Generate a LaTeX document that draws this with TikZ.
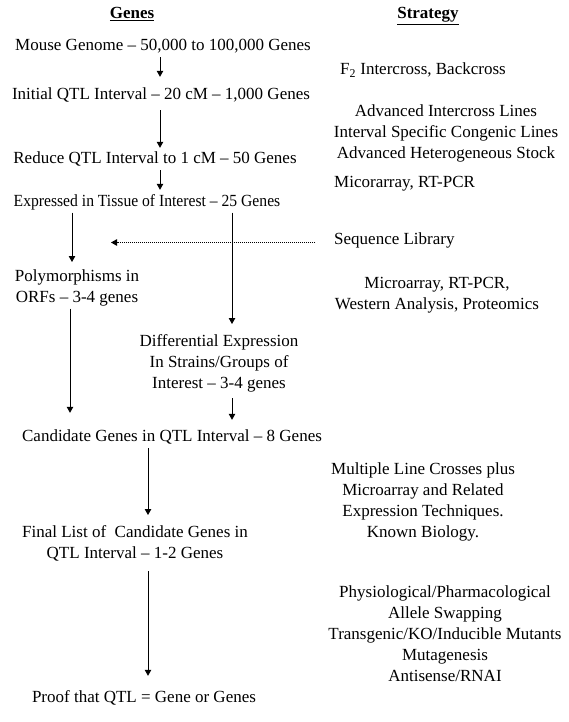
\documentclass[tikz,border=0pt]{standalone}
\usepackage{fontspec}
\usepackage{graphicx}
\setmainfont{Liberation Serif}
\usetikzlibrary{arrows.meta}
\begin{document}
\begin{tikzpicture}[x=1pt,y=-1pt,
  txt/.style={inner sep=0pt, font=\fontsize{17}{21}\selectfont, anchor=base},
  lft/.style={inner sep=0pt, font=\fontsize{17}{21}\selectfont, anchor=base west},
  blk/.style={inner sep=0pt, font=\fontsize{17}{21}\selectfont, align=center, anchor=north},
  arr/.style={line width=1pt, -{Triangle[length=6pt,width=6.5pt]}},
  dotarr/.style={line width=1pt, dash pattern=on 1pt off 1pt, -{Triangle[length=6pt,width=6.5pt]}}]
\useasboundingbox[fill=white] (0,0) rectangle (569,722);
% columns
\coordinate (c70) at (70,0);
\coordinate (c72) at (72,0);
\coordinate (c148) at (148,0);
\coordinate (c160) at (160,0);
\coordinate (c232) at (232,0);
% headers
\node[txt] (hG) at (132,19) {\underline{\textbf{Genes}}};
\node[txt] (hS) at (428,19) {\underline{\textbf{Strategy}}};
% genes column
\node[txt] (mouse) at (163,51) {\strut Mouse Genome – 50,000 to 100,000 Genes};
\node[txt] (initial) at (161,100) {\strut Initial QTL Interval – 20 cM – 1,000 Genes};
\node[txt] (reduce) at (155,164) {\strut Reduce QTL Interval to 1 cM – 50 Genes};
\node[txt] (expr) at (147,206) {\scalebox{0.92}[1]{\strut Expressed in Tissue of Interest – 25 Genes}};
\node[blk] (poly) at (77,266.3) {\strut Polymorphisms in\\\strut ORFs – 3-4 genes};
\node[blk] (diff) at (219,331.3) {\strut Differential Expression\\\strut In Strains/Groups of\\\strut Interest – 3-4 genes};
\node[txt] (cand) at (172,441) {\strut Candidate Genes in QTL Interval – 8 Genes};
\node[blk] (final) at (135,522.3) {\strut Final List of~ Candidate Genes in\\\strut QTL Interval – 1-2 Genes};
\node[txt] (proof) at (144,702) {\strut Proof that QTL = Gene or Genes};
% strategy column
\node[lft] (f2) at (340,75) {\strut F\textsubscript{2} Intercross, Backcross};
\node[blk] (adv) at (446,101.3) {\strut Advanced Intercross Lines\\\strut Interval Specific Congenic Lines\\\strut Advanced Heterogeneous Stock};
\node[lft] (mico) at (334,187) {\strut Micorarray, RT-PCR};
\node[lft] (seq) at (334,244) {\strut Sequence Library};
\node[blk] (micro) at (437,273.3) {\strut Microarray, RT-PCR,\\\strut Western Analysis, Proteomics};
\node[blk] (mult) at (423,459.3) {\strut Multiple Line Crosses plus\\\strut Microarray and Related\\\strut Expression Techniques.\\\strut Known Biology.};
\node[blk] (phys) at (445,582.3) {\strut Physiological/Pharmacological\\\strut Allele Swapping\\\strut Transgenic/KO/Inducible Mutants\\\strut Mutagenesis\\\strut Antisense/RNAI};
% connectors
\draw[arr, shorten >=8.3pt] (mouse.south -| c160) -- (initial.north -| c160);
\draw[arr, shorten <=3.7pt, shorten >=1.3pt] (initial.south -| c160) -- (reduce.north -| c160);
\draw[arr, shorten >=1.3pt] (reduce.south -| c160) -- (expr.north -| c160);
\draw[arr, shorten >=4.3pt] (expr.south -| c72) -- (poly.north -| c72);
\draw[arr, shorten >=7.3pt] (expr.south -| c232) -- (diff.north -| c232);
\draw[arr, shorten >=13.3pt] (poly.south -| c70) -- (cand.north -| c70);
\draw[arr, shorten <=3.7pt, shorten >=6.3pt] (diff.south -| c232) -- (cand.north -| c232);
\draw[arr, shorten <=0.7pt, shorten >=7.3pt] (cand.south -| c148) -- (final.north -| c148);
\draw[arr, shorten <=6.7pt, shorten >=11.3pt] (final.south -| c148) -- (proof.north -| c148);
\coordinate (seqend) at (111,242.5);
\draw[dotarr, shorten <=19pt] ([yshift=1.5pt]seq.base west) -- (seqend);
\end{tikzpicture}
\end{document}
